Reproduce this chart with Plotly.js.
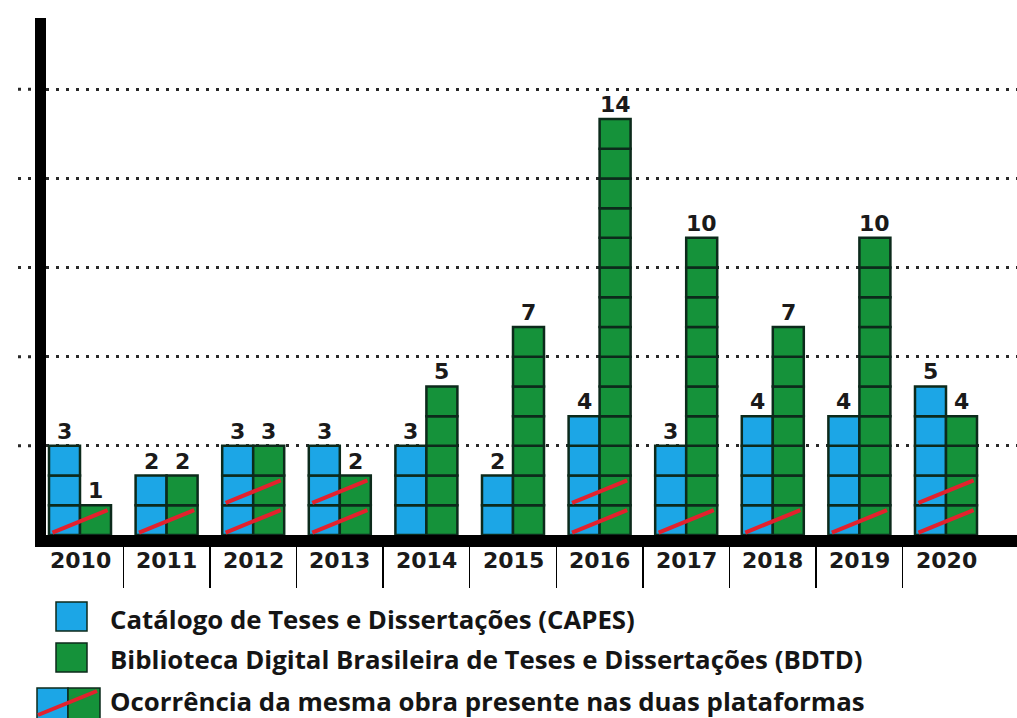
<!DOCTYPE html>
<html>
<head>
<meta charset="utf-8">
<script src="https://cdn.plot.ly/plotly-3.0.1.min.js"></script>
<style>
  html, body { margin: 0; padding: 0; background: #ffffff; }
  #chart { width: 1017px; height: 718px; }
</style>
</head>
<body>
<div id="chart"></div>
<script>
// Works found per year on each platform (one block = one work)
const years = ['2010', '2011', '2012', '2013', '2014', '2015', '2016', '2017', '2018', '2019', '2020'];
const capes = [3, 2, 3, 3, 3, 2, 4, 3, 4, 4, 5];
const bdtd  = [1, 2, 3, 2, 5, 7, 14, 10, 7, 10, 4];
// Works present on both platforms
const both  = [1, 1, 2, 2, 0, 0, 2, 1, 1, 1, 2];
const gridValues = [3, 6, 9, 12, 15];
const legendLabels = [
  'Catálogo de Teses e Dissertações (CAPES)',
  'Biblioteca Digital Brasileira de Teses e Dissertações (BDTD)',
  'Ocorrência da mesma obra presente nas duas plataformas'
];

// ---- page geometry and styling ----
const W = 1017, H = 718;
const M = { l: 46, r: 0, t: 18, b: 183 };
const BAR_W = 0.358;
const X_RANGE = [-0.3926, 10.8199];
const Y_RANGE = [0, 17.40];
const BLUE = '#1ca6e6', GREEN = '#15923a', EDGE = '#0c2a1b', RED = '#e3212d';
const NUM_FONT = { family: 'DejaVu Sans', size: 22, color: '#1a1a1a', weight: 'bold' };
const TXT_FONT = { family: 'Open Sans', size: 25.8, color: '#151515', weight: 'bold' };

// pixel -> paper helpers for decorations placed outside the plot area
const pw = W - M.l - M.r, ph = H - M.t - M.b;
const px = x => (x - M.l) / pw;
const py = y => (H - M.b - y) / ph;

// one bar per unit so every work shows as its own block
function unitBars(values, offset, color, name) {
  const x = [], base = [], y = [];
  values.forEach((v, i) => {
    for (let k = 0; k < v; k++) { x.push(i); base.push(k); y.push(1); }
  });
  return {
    type: 'bar', name, x, y, base, offset, width: BAR_W,
    marker: { color, line: { color: EDGE, width: 2.5 } },
    hoverinfo: 'skip', showlegend: false
  };
}

// red strokes across both columns, one per shared work
function sharedStrokes() {
  const x = [], y = [];
  both.forEach((n, i) => {
    for (let k = 0; k < n; k++) {
      x.push(i - BAR_W + 0.04, i + BAR_W - 0.04, null);
      y.push(k + 0.08, k + 0.84, null);
    }
  });
  return {
    type: 'scatter', mode: 'lines', x, y,
    line: { color: RED, width: 4 },
    hoverinfo: 'skip', showlegend: false
  };
}

const traces = [
  unitBars(capes, -BAR_W, BLUE, 'CAPES'),
  unitBars(bdtd, 0, GREEN, 'BDTD'),
  sharedStrokes()
];

const annotations = [];
// value labels above each column
capes.forEach((v, i) => annotations.push({
  x: i - BAR_W / 2, y: v, xref: 'x', yref: 'y', text: String(v),
  showarrow: false, yanchor: 'bottom', font: NUM_FONT
}));
bdtd.forEach((v, i) => annotations.push({
  x: i + BAR_W / 2, y: v, xref: 'x', yref: 'y', text: String(v),
  showarrow: false, yanchor: 'bottom', font: NUM_FONT
}));
// year labels under the axis
years.forEach((yr, i) => annotations.push({
  x: i, y: py(560), xref: 'x', yref: 'paper', text: yr,
  showarrow: false, yanchor: 'middle', font: NUM_FONT
}));
// key text
const keyRows = [619, 659, 701];
legendLabels.forEach((t, j) => annotations.push({
  x: px(108), y: py(keyRows[j]), xref: 'paper', yref: 'paper', text: t,
  showarrow: false, xanchor: 'left', yanchor: 'middle', font: TXT_FONT
}));

const shapes = [];
// dotted guides continue a little to the left of the vertical axis
gridValues.forEach(v => shapes.push({
  type: 'line', xref: 'paper', yref: 'y', x0: px(18), x1: px(35), y0: v, y1: v,
  line: { color: '#2a2a2a', width: 3, dash: '3px,7px' }, layer: 'below'
}));
// key swatches
function rect(x0, y0, x1, y1, color) {
  return { type: 'rect', xref: 'paper', yref: 'paper', x0: px(x0), x1: px(x1), y0: py(y1), y1: py(y0),
           fillcolor: color, line: { color: EDGE, width: 1.5 } };
}
shapes.push(rect(56, 602, 87, 631, BLUE));
shapes.push(rect(56, 643, 87, 672, GREEN));
shapes.push(rect(37, 688, 68, 720, BLUE));
shapes.push(rect(68, 688, 100, 720, GREEN));
shapes.push({ type: 'line', xref: 'paper', yref: 'paper', x0: px(38), y0: py(715), x1: px(97), y1: py(691),
              line: { color: RED, width: 4 } });

const layout = {
  width: W, height: H,
  margin: M,
  paper_bgcolor: '#ffffff', plot_bgcolor: '#ffffff',
  showlegend: false,
  barmode: 'overlay',
  xaxis: {
    range: X_RANGE, fixedrange: true,
    showgrid: false, zeroline: false,
    showline: true, linewidth: 12, linecolor: '#000000',
    tickvals: years.slice(1).map((_, i) => i + 0.5),
    ticks: 'outside', ticklen: 41, tickwidth: 1.5, tickcolor: '#000000',
    showticklabels: false
  },
  yaxis: {
    range: Y_RANGE, fixedrange: true,
    tickvals: gridValues, showticklabels: false, ticks: '',
    showgrid: true, gridcolor: '#2a2a2a', gridwidth: 3, griddash: '3px,7px',
    zeroline: false,
    showline: true, linewidth: 11, linecolor: '#000000'
  },
  annotations, shapes
};

Plotly.newPlot('chart', traces, layout, { staticPlot: true, displayModeBar: false });
</script>
</body>
</html>
